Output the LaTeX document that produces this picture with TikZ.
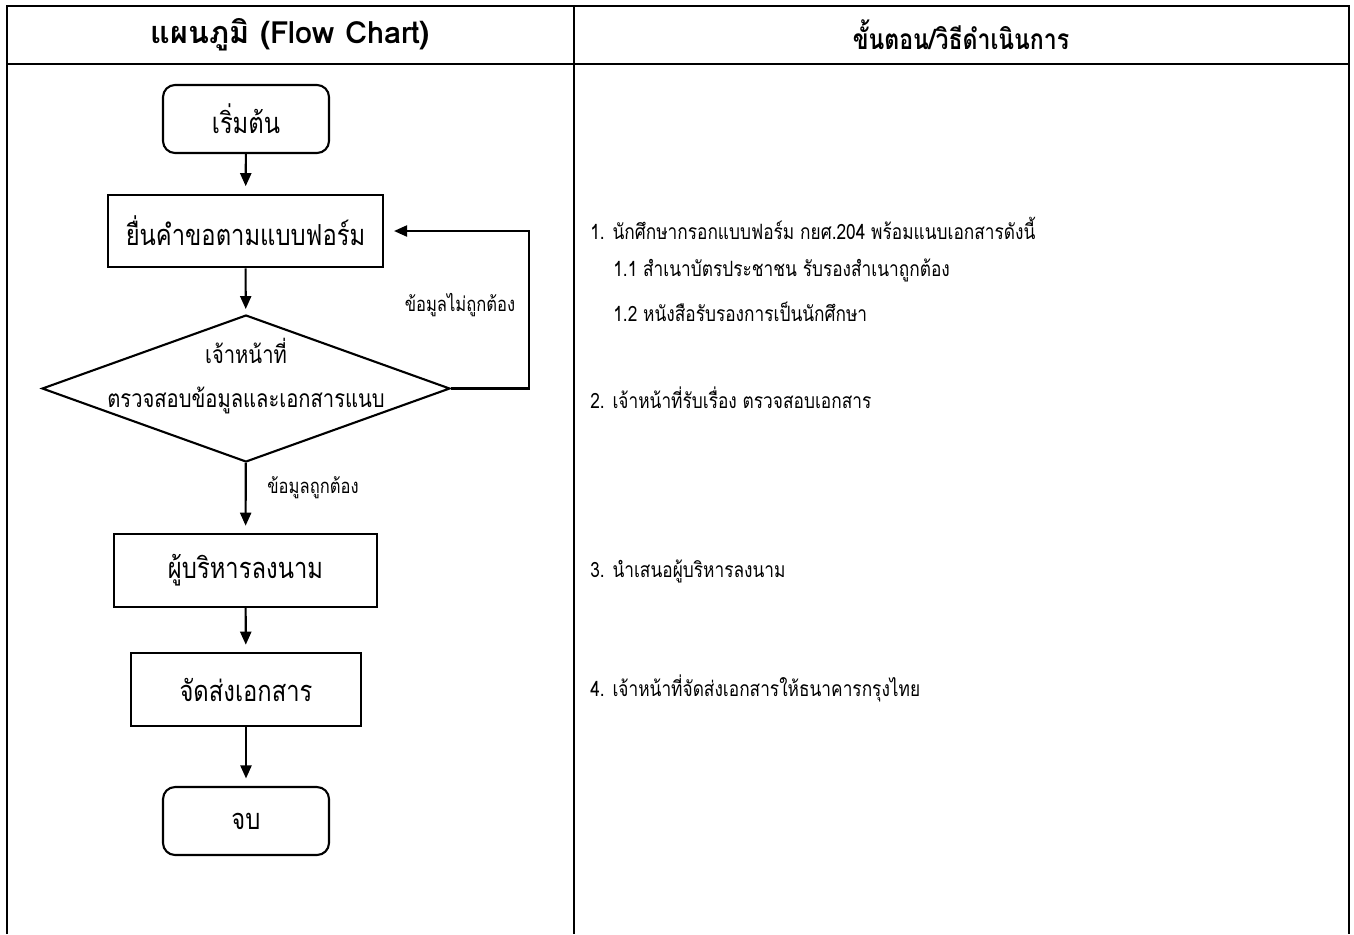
\documentclass[tikz,border=0pt]{standalone}
\usepackage{fontspec}
\setmainfont[Script=Thai, FakeStretch=0.82]{Loma}
\newfontfamily\headfont[Script=Thai]{Loma}
\usetikzlibrary{shapes.geometric}
\usetikzlibrary{arrows.meta}

\tikzset{
  termbox/.style={draw, line width=1.2pt, rounded corners=0.24cm,
    minimum width=3.32cm, minimum height=1.36cm, font=\fontsize{16.5}{19}\selectfont},
  procbox/.style={draw, line width=1.2pt, minimum height=1.45cm,
    font=\fontsize{16.5}{19}\selectfont},
  flowarrow/.style={line width=1.2pt, -{Triangle[length=0.26cm, width=0.22cm]},
    shorten >=0.15cm},
  steptext/.style={anchor=west, inner sep=0pt, font=\fontsize{12}{14}\selectfont},
  condtext/.style={inner sep=0pt, font=\fontsize{11.5}{13}\selectfont},
  headtext/.style={font=\fontsize{16}{19}\selectfont\bfseries}
}

\begin{document}
\begin{tikzpicture}[x=0.02cm, y=-0.02cm]
  \useasboundingbox (0,0) rectangle (1354,934);

  % Table
  \draw[line width=1.6pt] (7,934) -- (7,6) -- (1349,6) -- (1349,934);
  \draw[line width=1.6pt] (7,64) -- (1349,64);
  \draw[line width=1.6pt] (574,6) -- (574,934);

  % Headings
  \node[headtext, font=\headfont\fontsize{17.4}{19}\selectfont\bfseries] (headL) at (290.5,35)
    {แผนภูมิ (Flow Chart)};
  \node[headtext] (headR) at (961,35) {ขั้นตอน/วิธีดำเนินการ};

  % Flow chart
  \node[termbox] (start) at (246,119) {เริ่มต้น};
  \node[procbox, minimum width=5.5cm] (form) at (245.5,231) {ยื่นคำขอตามแบบฟอร์ม};
  \node[draw, diamond, line width=1.2pt, minimum width=8.16cm, minimum height=2.94cm,
        inner sep=0pt] (check) at (246,388.5) {};
  \node[align=center, font=\fontsize{14}{25.5}\selectfont] (checktxt) at (246,376)
    {เจ้าหน้าที่\\ตรวจสอบข้อมูลและเอกสารแนบ};
  \node[procbox, minimum width=5.26cm] (sign) at (245.5,570.5) {ผู้บริหารลงนาม};
  \node[procbox, minimum width=4.6cm] (send) at (246,689.5) {จัดส่งเอกสาร};
  \node[termbox] (stop) at (246,821) {จบ};

  \draw[flowarrow] (start) -- (form);
  \draw[flowarrow, shorten >=0.1cm] (form) -- (check);
  \draw[flowarrow] (check) -- (sign);
  \draw[flowarrow] (sign) -- (send);
  \draw[flowarrow] (send) -- (stop);
  \draw[flowarrow, shorten >=0.2cm] (check.east) -- (529,388.5) |- (form.east);

  \node[condtext] (wrong) at (460,305) {ข้อมูลไม่ถูกต้อง};
  \node[condtext] (right) at (313,488) {ข้อมูลถูกต้อง};

  % Steps
  \node[steptext] (s1) at (590,228) {1. นักศึกษากรอกแบบฟอร์ม กยศ.204 พร้อมแนบเอกสารดังนี้};
  \node[steptext] (s11) at (613,270) {1.1 สำเนาบัตรประชาชน รับรองสำเนาถูกต้อง};
  \node[steptext] (s12) at (613,312) {1.2 หนังสือรับรองการเป็นนักศึกษา};
  \node[steptext] (s2) at (590,398) {2. เจ้าหน้าที่รับเรื่อง ตรวจสอบเอกสาร};
  \node[steptext] (s3) at (590,571) {3. นำเสนอผู้บริหารลงนาม};
  \node[steptext] (s4) at (590,688) {4. เจ้าหน้าที่จัดส่งเอกสารให้ธนาคารกรุงไทย};
\end{tikzpicture}
\end{document}
